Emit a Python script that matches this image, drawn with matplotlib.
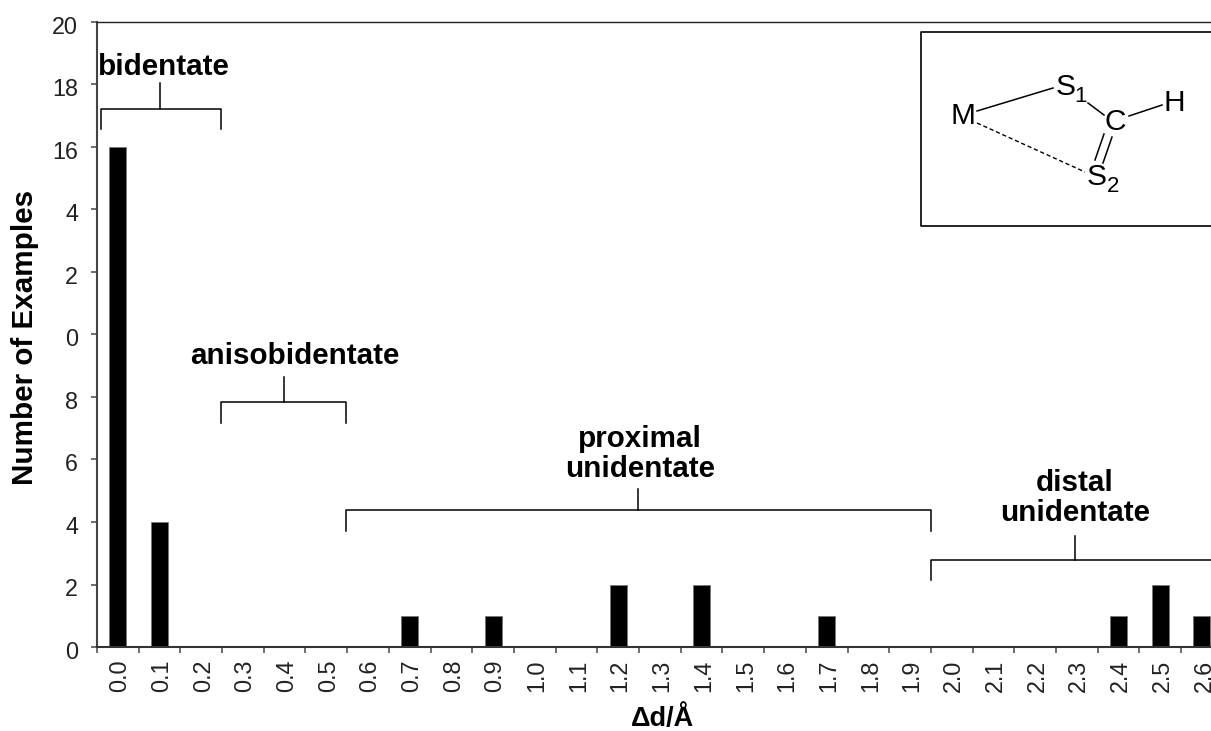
import matplotlib
matplotlib.use('Agg')
import matplotlib.pyplot as plt
from matplotlib.transforms import ScaledTranslation
import numpy as np

plt.rcParams['font.family'] = ['Liberation Sans', 'DejaVu Sans']

# Data
categories = ['0.0', '0.1', '0.2', '0.3', '0.4', '0.5', '0.6', '0.7', '0.8', '0.9',
              '1.0', '1.1', '1.2', '1.3', '1.4', '1.5', '1.6', '1.7', '1.8', '1.9',
              '2.0', '2.1', '2.2', '2.3', '2.4', '2.5', '2.6']
counts = [16, 4, 0, 0, 0, 0, 0, 1, 0, 1, 0, 0, 2, 0, 2, 0, 0, 1, 0, 0, 0, 0, 0, 0, 1, 2, 1]
y_ticks = [0, 2, 4, 6, 8, 10, 12, 14, 16, 18, 20]
# leading digits of 10, 12 and 14 are cut off in the original figure
y_tick_labels = ['0', '2', '4', '6', '8', '0', '2', '4', '16', '18', '20']

W, H = 1211, 731
fig = plt.figure(figsize=(W / 100, H / 100), dpi=100)
ax = fig.add_axes([97 / W, 1 - 647 / H, (W - 97) / W, (647 - 22) / H])

x = np.arange(len(categories))
ax.bar(x, counts, width=0.41, color='black', edgecolor='#777777', linewidth=0.6)

ax.set_xticks(x)
ax.set_xticklabels(categories, rotation=90, fontsize=16.8, color='#222222')
ax.set_xticks(x - 0.5, minor=True)
ax.set_xlim(-0.5, (W - 118) / 41.69)
ax.set_ylim(0, 20)
ax.tick_params(axis='x', which='major', length=0, pad=9)
ax.tick_params(axis='x', which='minor', length=4.5, width=1.2, color='#555555')
ax.set_yticks(y_ticks)
ax.set_yticklabels(y_tick_labels, fontsize=16.8, color='#222222')
ax.tick_params(axis='y', length=4.5, width=1.2, color='#555555', pad=9)

# nudge tick labels: they sit a little off their ticks in the original
for t in ax.get_xticklabels():
    t.set_transform(t.get_transform() + ScaledTranslation(2 / 100, 0, fig.dpi_scale_trans))
for t in ax.get_yticklabels():
    t.set_transform(t.get_transform() + ScaledTranslation(0, -3 / 100, fig.dpi_scale_trans))

ax.spines['right'].set_visible(False)
ax.spines['left'].set_linewidth(1.5)
ax.spines['left'].set_color('#444444')
ax.spines['bottom'].set_linewidth(1.5)
ax.spines['bottom'].set_color('#333333')
ax.spines['top'].set_linewidth(1.0)
ax.spines['top'].set_color('#222222')

# Overlay in pixel coordinates for the brackets and the structure inset
ov = fig.add_axes([0, 0, 1, 1], facecolor='none')
ov.set_xlim(0, W)
ov.set_ylim(H, 0)
ov.axis('off')


def bracket(x0, x1, top, bottom, stem_x, stem_top):
    ov.plot([x0, x0, x1, x1], [bottom, top, top, bottom], color='black', lw=1.1)
    ov.plot([stem_x, stem_x], [top, stem_top], color='black', lw=1.1)


bracket(101, 221, 109, 129, 160, 83)
bracket(221, 346, 402, 423, 284, 377)
bracket(346, 931, 510, 531, 638, 489)
bracket(931, 1225, 560, 580, 1075, 536)

lab = dict(fontsize=21.3, fontweight='bold', ha='center', va='center', color='black', linespacing=1.05)
ov.text(164, 67, 'bidentate', **lab)
ov.text(295, 356, 'anisobidentate', **lab)
ov.text(640, 454, 'proximal\nunidentate', **lab)
ov.text(1075, 498, 'distal\nunidentate', **lab)

ov.text(25, 337, 'Number of Examples', fontsize=21.3, fontweight='bold', rotation=90,
        ha='center', va='center')
ov.text(662, 726, '\u0394d/\u00c5', fontsize=19.5, fontweight='bold', ha='center', va='baseline')

# Structure inset
ov.plot([1213, 921, 921, 1213], [32, 32, 226, 226], color='black', lw=1.2)
ov.plot([977, 1053], [111, 88], color='black', lw=1.1)
ov.plot([977, 1085], [123, 172], color='black', lw=1.0, ls=(0, (3, 2)))
ov.plot([1088, 1104], [103, 115], color='black', lw=1.1)
ov.plot([1129, 1162], [116, 105], color='black', lw=1.1)
ov.plot([1095, 1104], [160, 134], color='black', lw=1.1)
ov.plot([1103, 1112], [163, 137], color='black', lw=1.1)
chem = dict(fontsize=21.5, ha='center', va='center', color='black')
ov.text(963, 116, 'M', **chem)
ov.text(1066, 87, 'S', **chem)
ov.text(1080, 97, '1', fontsize=16, ha='center', va='center')
ov.text(1115, 122, 'C', **chem)
ov.text(1174, 103, 'H', **chem)
ov.text(1097, 177, 'S', **chem)
ov.text(1113, 187, '2', fontsize=16, ha='center', va='center')

plt.savefig('out.png', dpi=100)
print("Plot saved to out.png")
